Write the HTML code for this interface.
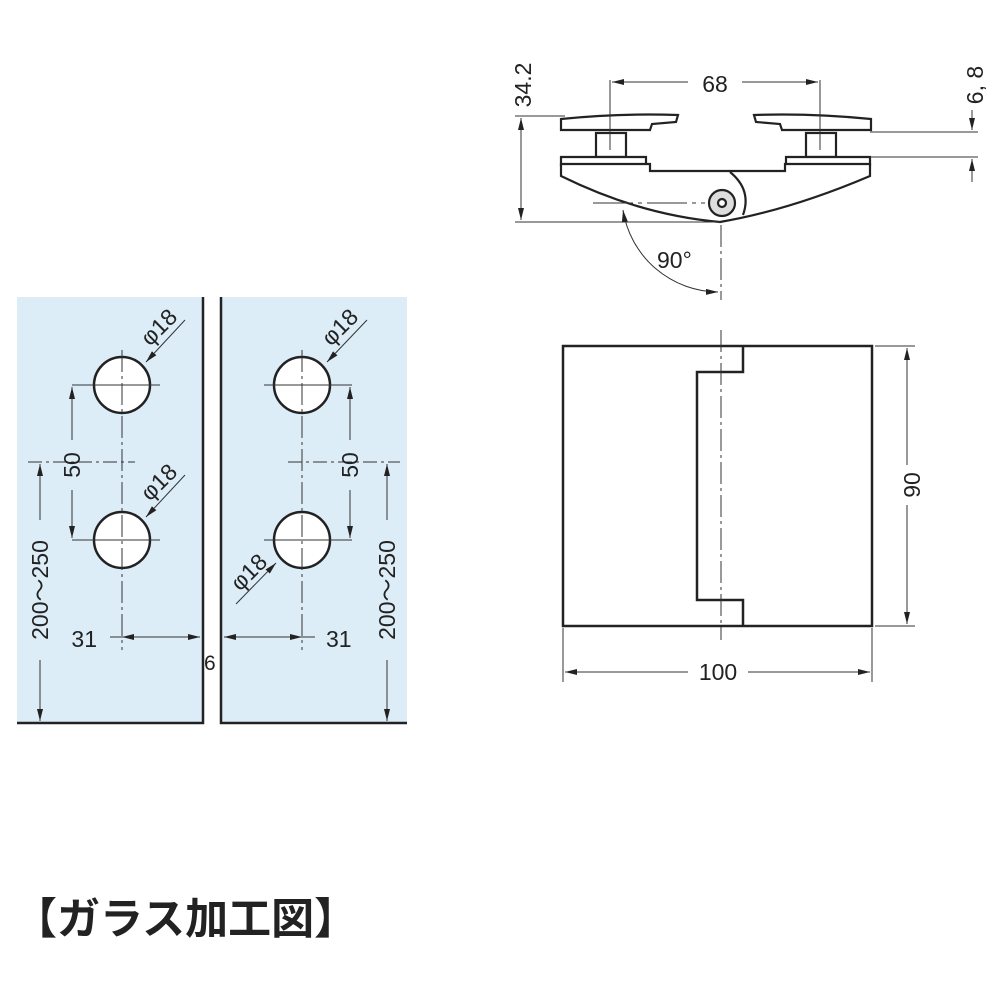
<!DOCTYPE html>
<html><head><meta charset="utf-8"><style>
html,body{margin:0;padding:0;background:#fff;width:1000px;height:1000px;overflow:hidden}
svg{display:block}
text{font-family:"Liberation Sans",sans-serif;fill:#222}
</style></head><body>
<svg width="1000" height="1000" viewBox="0 0 1000 1000" xmlns="http://www.w3.org/2000/svg">
<defs>
<marker id="a" viewBox="0 0 12 6" refX="12" refY="3" markerWidth="12" markerHeight="6" orient="auto-start-reverse" markerUnits="userSpaceOnUse"><path d="M0,0 L12,3 L0,6z" fill="#222"/></marker>
</defs>
<rect x="17" y="297" width="186" height="426" fill="#dcedf8"/>
<rect x="221" y="297" width="186" height="426" fill="#dcedf8"/>
<g stroke="#222" stroke-width="2.5" fill="none">
<path d="M203,297 V723 H17"/>
<path d="M221,297 V723 H407"/>
</g>
<g stroke="#222" stroke-width="2.5" fill="#fff">
<circle cx="122" cy="385" r="28"/><circle cx="122" cy="540" r="28"/>
<circle cx="302" cy="385" r="28"/><circle cx="302" cy="540" r="28"/>
</g>
<g stroke="#333" stroke-width="1" fill="none">
<path d="M122,350 V650" stroke-dasharray="22,4,3,4"/>
<path d="M302,350 V650" stroke-dasharray="22,4,3,4"/>
<path d="M90,385 H160 M90,540 H160 M264,385 H334 M264,540 H334"/>
<path d="M28,462 H135" stroke-dasharray="14,4,3,4"/>
<path d="M288,462 H400" stroke-dasharray="14,4,3,4"/>
<path d="M72,385 H92 M72,540 H92 M332,385 H352 M332,540 H352"/>
<path d="M72,440 V387" marker-end="url(#a)"/>
<path d="M72,490 V538" marker-end="url(#a)"/>
<path d="M350,440 V387" marker-end="url(#a)"/>
<path d="M350,490 V538" marker-end="url(#a)"/>
<path d="M40,520 V464" marker-end="url(#a)"/>
<path d="M40,660 V721" marker-end="url(#a)"/>
<path d="M387,520 V464" marker-end="url(#a)"/>
<path d="M387,660 V721" marker-end="url(#a)"/>
<path d="M110,637 H122"/>
<path d="M122,637 H200" marker-start="url(#a)" marker-end="url(#a)"/>
<path d="M224,637 H302" marker-start="url(#a)" marker-end="url(#a)"/>
<path d="M302,637 H315"/>
<path d="M185,320 L146,362" marker-end="url(#a)"/>
<path d="M185,475 L146,517" marker-end="url(#a)"/>
<path d="M367,320 L327,362" marker-end="url(#a)"/>
<path d="M236,604 L276,563" marker-end="url(#a)"/>
</g>
<g font-size="23">
<text x="97" y="647" text-anchor="end">31</text>
<text x="326" y="647">31</text>
<text x="204" y="670" font-size="21">6</text>
<text transform="translate(80,465) rotate(-90)" text-anchor="middle">50</text>
<text transform="translate(358,465) rotate(-90)" text-anchor="middle">50</text>
<text transform="translate(48,590) rotate(-90)" text-anchor="middle">200～250</text>
<text transform="translate(395,590) rotate(-90)" text-anchor="middle">200～250</text>
<text transform="translate(150,347) rotate(-45)">φ18</text>
<text transform="translate(150,502) rotate(-45)">φ18</text>
<text transform="translate(331,347) rotate(-45)">φ18</text>
<text transform="translate(240,592) rotate(-45)">φ18</text>
</g>
<g stroke="#222" stroke-width="2.5" fill="none">
<rect x="563" y="346" width="309" height="280"/>
<path d="M743,346 V372 H697 V600 H743 V626"/>
</g>
<g stroke="#333" stroke-width="1" fill="none">
<path d="M721,330 V640" stroke-dasharray="22,4,3,4"/>
<path d="M721,225 V300" stroke-dasharray="22,4,3,4"/>
<path d="M875,346 H915 M875,626 H915"/>
<path d="M907,465 V348" marker-end="url(#a)"/>
<path d="M907,505 V624" marker-end="url(#a)"/>
<path d="M563,628 V682 M872,628 V682"/>
<path d="M688,672 H565" marker-end="url(#a)"/>
<path d="M748,672 H870" marker-end="url(#a)"/>
</g>
<text x="718" y="680" font-size="23" text-anchor="middle">100</text>
<text transform="translate(920,485) rotate(-90)" font-size="23" text-anchor="middle">90</text>
<g stroke="#222" stroke-width="2.2" fill="#fff">
<path d="M561,119 Q620,113 678,115 L676,122 L652,124 L650,130 L561,130 Z"/>
<path d="M871,119 Q810,113 754,115 L756,122 L780,124 L782,130 L871,130 Z"/>
<rect x="596" y="133" width="30" height="24"/>
<rect x="806" y="133" width="30" height="24"/>
<path d="M561,157 H646 V165 H561 Z"/>
<path d="M870,157 H786 V165 H870 Z"/>
<path d="M561,164 H650 V171 H785 V164 H870 V176 Q790,210 720,222 Q640,215 561,176 Z"/>
<path d="M730,172 Q752,190 743,215" fill="none"/>
<circle cx="722" cy="203" r="13" fill="#ddd"/>
<circle cx="722" cy="203" r="4"/>
</g>
<g stroke="#333" stroke-width="1" fill="none">
<path d="M515,116 H565 M515,222 H720"/>
<path d="M521,170 V118" marker-end="url(#a)"/>
<path d="M521,170 V220" marker-end="url(#a)"/>
<path d="M610,80 V150 M820,80 V150"/>
<path d="M688,82 H612" marker-end="url(#a)"/>
<path d="M742,82 H818" marker-end="url(#a)"/>
<path d="M870,132 H978 M870,157 H978"/>
<path d="M972,110 V130" marker-end="url(#a)"/>
<path d="M972,182 V159" marker-end="url(#a)"/>
<path d="M593,203 H705" stroke-dasharray="40,5,4,5"/>
<path d="M623,210 A97,97 0 0 0 718,292" marker-start="url(#a)" marker-end="url(#a)"/>
</g>
<text x="715" y="92" font-size="23" text-anchor="middle">68</text>
<text transform="translate(531,85) rotate(-90)" font-size="23" text-anchor="middle">34.2</text>
<text transform="translate(983,85) rotate(-90)" font-size="23" text-anchor="middle">6, 8</text>
<text x="657" y="268" font-size="23">90°</text>
<text x="14" y="934" font-size="43" font-weight="bold" style="font-family:'Liberation Sans','Noto Sans CJK JP',sans-serif" fill="#111">【ガラス加工図】</text>
</svg>
</body></html>
